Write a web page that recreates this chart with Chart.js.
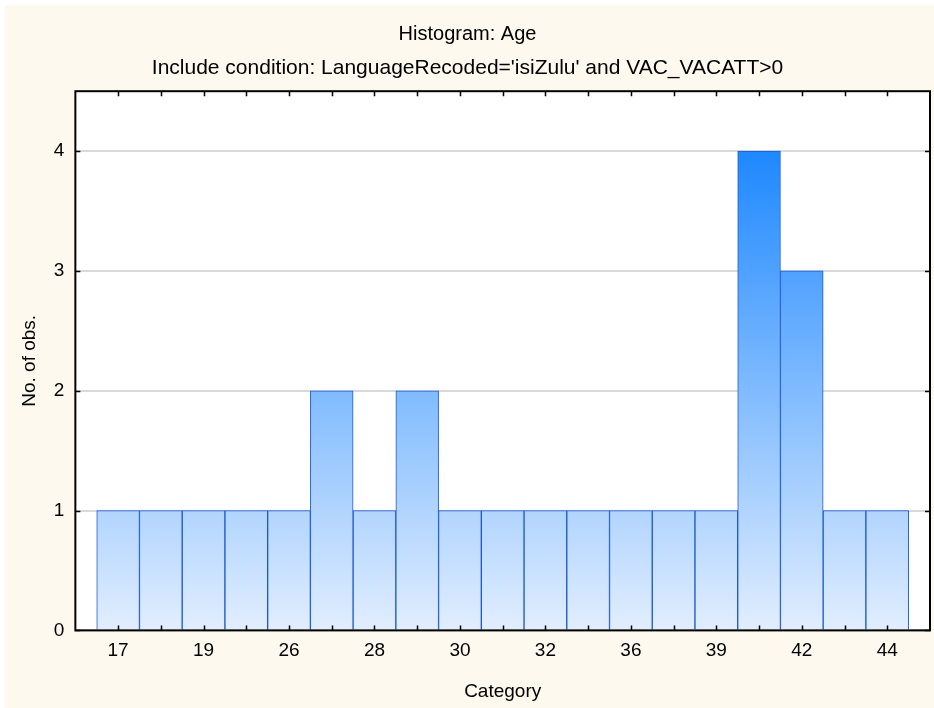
<!DOCTYPE html>
<html>
<head>
<meta charset="utf-8">
<script src="https://cdn.jsdelivr.net/npm/chart.js@4"></script>
<style>
  body { margin: 0; background: #ffffff; }
  #wrap { width: 934px; height: 708px; position: relative; }
</style>
</head>
<body>
<div id="wrap"><canvas id="histChart"></canvas></div>
<script>
// histogram data
const categories = ['17', '18', '19', '24', '26', '27', '28', '29', '30', '31',
                    '32', '34', '36', '37', '39', '40', '42', '43', '44'];
const counts = [1, 1, 1, 1, 1, 2, 1, 2, 1, 1, 1, 1, 1, 1, 1, 4, 3, 1, 1];
const yTicks = [0, 1, 2, 3, 4];

const titleText = 'Histogram: Age';
const subtitleText = "Include condition: LanguageRecoded='isiZulu' and VAC_VACATT>0";

const FONT = 'Liberation Sans, Arial, sans-serif';

// bars sit on a linear index axis so there is half a bar of room at each end
const points = counts.map((c, i) => ({ x: i, y: c }));

// cream page, black frame and inward tick marks
const framePlugin = {
  id: 'frame',
  beforeDraw(chart) {
    const ctx = chart.ctx;
    const a = chart.chartArea;
    ctx.save();
    ctx.fillStyle = '#fdf9ef';
    ctx.fillRect(5, 5, chart.width - 5, chart.height - 5);
    ctx.fillStyle = '#ffffff';
    ctx.fillRect(a.left, a.top, a.right - a.left, a.bottom - a.top);
    ctx.restore();
  },
  afterDraw(chart) {
    const ctx = chart.ctx;
    const a = chart.chartArea;
    const xs = chart.scales.x, ys = chart.scales.y;
    ctx.save();
    ctx.strokeStyle = '#000000';
    ctx.lineWidth = 2;
    ctx.strokeRect(a.left, a.top, a.right - a.left, a.bottom - a.top);
    ctx.lineWidth = 1.5;
    ctx.beginPath();
    categories.forEach((c, i) => {
      const px = Math.round(xs.getPixelForValue(i)) + 0.5;
      ctx.moveTo(px, a.bottom); ctx.lineTo(px, a.bottom - 5);
      ctx.moveTo(px, a.top); ctx.lineTo(px, a.top + 5);
    });
    yTicks.forEach(v => {
      const py = Math.round(ys.getPixelForValue(v)) + 0.5;
      ctx.moveTo(a.left, py); ctx.lineTo(a.left + 5, py);
      ctx.moveTo(a.right, py); ctx.lineTo(a.right - 5, py);
    });
    ctx.stroke();
    ctx.restore();
  }
};

function barGradient(context) {
  const chart = context.chart;
  const a = chart.chartArea;
  if (!a) return '#b0d4fc';
  const ys = chart.scales.y;
  const g = chart.ctx.createLinearGradient(0, ys.getPixelForValue(0), 0, ys.getPixelForValue(4));
  g.addColorStop(0, '#e2eefe');
  g.addColorStop(1, '#1e88ff');
  return g;
}

new Chart(document.getElementById('histChart'), {
  type: 'bar',
  data: {
    datasets: [{
      label: 'Age',
      data: points,
      backgroundColor: barGradient,
      borderColor: '#1c58d4',
      borderWidth: 1,
      categoryPercentage: 1.0,
      barPercentage: 1.0
    }]
  },
  options: {
    responsive: true,
    maintainAspectRatio: false,
    animation: false,
    layout: { padding: { left: 5, right: 4, top: 5, bottom: 2 } },
    plugins: {
      legend: { display: false },
      tooltip: { enabled: false },
      title: {
        display: true,
        text: titleText,
        color: '#000000',
        font: { family: FONT, size: 20, weight: 'normal' },
        padding: { top: 17, bottom: 10 }
      },
      subtitle: {
        display: true,
        text: subtitleText,
        color: '#000000',
        font: { family: FONT, size: 21, weight: 'normal' },
        padding: { top: 0, bottom: 10 }
      }
    },
    scales: {
      x: {
        type: 'linear',
        offset: false,
        min: -1,
        max: categories.length,
        afterBuildTicks: scale => {
          scale.ticks = categories
            .map((c, i) => ({ value: i }))
            .filter(t => t.value % 2 === 0);
        },
        grid: { display: false },
        border: { display: false },
        ticks: {
          autoSkip: false,
          maxRotation: 0,
          color: '#000000',
          padding: 1,
          font: { family: FONT, size: 19 },
          callback: v => categories[v]
        },
        title: {
          display: true,
          text: 'Category',
          color: '#000000',
          font: { family: FONT, size: 19 },
          padding: { top: 17, bottom: 3 }
        }
      },
      y: {
        min: 0,
        max: 4.5,
        afterBuildTicks: scale => {
          scale.ticks = yTicks.map(v => ({ value: v }));
        },
        grid: { color: '#d9d9d9', lineWidth: 2, drawTicks: false },
        border: { display: false },
        ticks: {
          color: '#000000',
          padding: 11,
          font: { family: FONT, size: 19 }
        },
        title: {
          display: true,
          text: 'No. of obs.',
          color: '#000000',
          font: { family: FONT, size: 19 },
          padding: { top: 13, bottom: 2 }
        }
      }
    }
  },
  plugins: [framePlugin]
});
</script>
</body>
</html>
